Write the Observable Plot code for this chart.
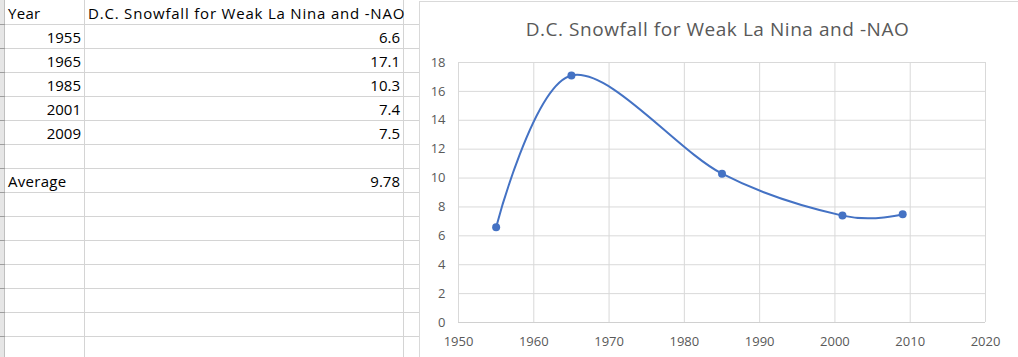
<!DOCTYPE html>
<html><head><meta charset="utf-8">
<script src="https://cdn.jsdelivr.net/npm/d3@7"></script>
<script src="https://cdn.jsdelivr.net/npm/@observablehq/plot@0.6"></script>
<style>
html,body{margin:0;padding:0;background:#fff;overflow:hidden}
#root{position:relative;width:1018px;height:357px;overflow:hidden;font-family:"Open Sans",sans-serif}
#sheet{position:absolute;left:0;top:0}
#chartbg{position:absolute;left:419px;top:1px;width:620px;height:400px;box-sizing:border-box;border-left:1px solid #d9d9d9;border-top:1px solid #d9d9d9;background:#fff}
#title{position:absolute;left:419px;width:597px;top:17px;text-align:center;font-family:"Open Sans",sans-serif;font-size:19px;letter-spacing:0.55px;line-height:24px;color:#595959;white-space:nowrap}
#plot{position:absolute;left:419px;top:50px}
</style>
</head><body>
<div id="root">
  <svg id="sheet" width="419" height="357"></svg>
  <div id="chartbg"></div>
  <div id="title"></div>
  <div id="plot"></div>
</div>
<script>
// ---- data ----
const years = [1955, 1965, 1985, 2001, 2009];
const snowfall = [6.6, 17.1, 10.3, 7.4, 7.5];
const seriesName = "D.C. Snowfall for Weak La Nina and -NAO";
const yearHeader = "Year";
const averageLabel = "Average";
const averageValue = "9.78";
const xTicks = [1950, 1960, 1970, 1980, 1990, 2000, 2010, 2020];
const yTicks = [0, 2, 4, 6, 8, 10, 12, 14, 16, 18];

const data = years.map((y, i) => ({year: y, snow: snowfall[i]}));

// ---- spreadsheet ----
const sheet = d3.select("#sheet");
const rowH = 24, colA = 84, colB = 403, sheetRight = 419;
sheet.append("rect").attr("x", 0).attr("y", 0).attr("width", 4).attr("height", 357).attr("fill", "#e6e6e6");
sheet.append("line").attr("x1", 4.5).attr("x2", 4.5).attr("y1", 0).attr("y2", 357).attr("stroke", "#c0c0c0");
for (let k = 1; k <= 14; k++) {
  const y = k * rowH + 0.5;
  sheet.append("line").attr("x1", 5).attr("x2", sheetRight).attr("y1", y).attr("y2", y).attr("stroke", "#d4d4d4");
  sheet.append("line").attr("x1", 0).attr("x2", 5).attr("y1", y).attr("y2", y).attr("stroke", "#9e9e9e");
}
[colA, colB].forEach(x => sheet.append("line").attr("x1", x + 0.5).attr("x2", x + 0.5).attr("y1", 0).attr("y2", 357).attr("stroke", "#d4d4d4"));

const rows = [
  {a: yearHeader, b: seriesName, aLeft: true, bLeft: true},
  ...years.map((y, i) => ({a: String(y), b: String(snowfall[i])})),
  {a: "", b: ""},
  {a: averageLabel, b: averageValue, aLeft: true}
];
rows.forEach((r, k) => {
  const base = (k + 1) * rowH - 4.7;
  const t = (x, anchor, s, ls) => sheet.append("text").attr("x", x).attr("y", base).attr("text-anchor", anchor)
    .attr("font-family", "'Open Sans', sans-serif").attr("font-size", 15).attr("letter-spacing", ls || 0)
    .attr("fill", "#000").text(s);
  if (r.a) r.aLeft ? t(8, "start", r.a, 0.3) : t(81, "end", r.a);
  if (r.b) r.bLeft ? t(88, "start", r.b, 0.8) : t(400, "end", r.b);
});

// ---- chart ----
document.getElementById("title").textContent = seriesName;

const chart = Plot.plot({
  width: 599,
  height: 307,
  marginLeft: 39,
  marginRight: 33,
  marginTop: 12,
  marginBottom: 35,
  style: {fontFamily: "'Open Sans', sans-serif", fontSize: "13px", color: "#595959", background: "transparent", overflow: "visible"},
  x: {domain: [1950, 2020]},
  y: {domain: [0, 18]},
  marks: [
    Plot.gridX(xTicks, {stroke: "#d9d9d9", strokeOpacity: 1}),
    Plot.gridY(yTicks, {stroke: "#d9d9d9", strokeOpacity: 1}),
    Plot.ruleY([0], {stroke: "#d0d0d0"}),
    Plot.axisX(xTicks, {tickSize: 0, tickPadding: 14, fill: "#595959", fontSize: 13, tickFormat: "d", label: null}),
    Plot.axisY(yTicks, {tickSize: 0, tickPadding: 13, fill: "#595959", fontSize: 13, tickFormat: "d", label: null}),
    Plot.line(data, {x: "year", y: "snow", curve: "cardinal", stroke: "#4472C4", strokeWidth: 2}),
    Plot.dot(data, {x: "year", y: "snow", r: 4, fill: "#4472C4", stroke: "none"})
  ]
});
document.getElementById("plot").appendChild(chart);
</script>
</body></html>
